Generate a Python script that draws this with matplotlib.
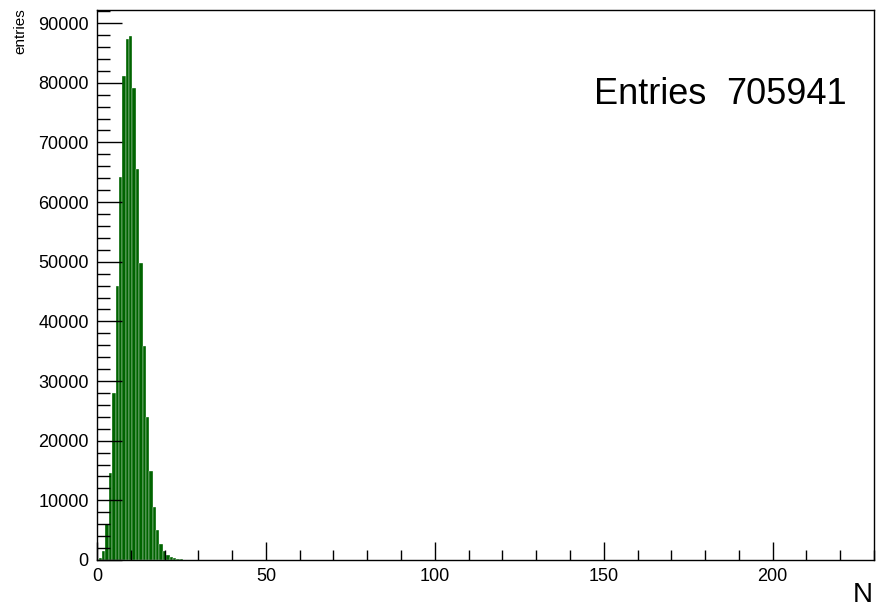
import numpy as np
import matplotlib
matplotlib.use('Agg')
import matplotlib.pyplot as plt
from matplotlib.ticker import MultipleLocator

plt.rcParams['font.family'] = ['Liberation Sans', 'DejaVu Sans']

# histogram of N, unit-width bins centred on integers
n_bins = np.arange(1, 26)
counts = [350, 1500, 5980, 14600, 28060, 45870, 64280, 81160, 87380, 87890,
          79180, 65590, 49760, 35930, 24010, 14950, 8840, 5080, 2740, 1470,
          800, 560, 330, 200, 100]
n_entries = 705941

x_major = [0, 50, 100, 150, 200]
y_major = [0, 10000, 20000, 30000, 40000, 50000, 60000, 70000, 80000, 90000]

fig = plt.figure(figsize=(8.76, 6.10), dpi=100)
ax = fig.add_axes([0.1107, 0.082, 0.887, 0.9016])

ax.bar(n_bins, counts, width=1.0, color='#006400', edgecolor='white', linewidth=0.25)

ax.set_xlim(0, 230)
ax.set_ylim(0, 92200)

ax.set_xticks(x_major)
ax.set_xticklabels([str(v) for v in x_major])
ax.xaxis.set_minor_locator(MultipleLocator(10))
ax.set_yticks(y_major)
ax.set_yticklabels([str(v) for v in y_major])
ax.yaxis.set_minor_locator(MultipleLocator(2000))

ax.tick_params(axis='both', which='both', direction='in', labelsize=13, pad=6)
ax.tick_params(axis='y', which='major', length=18, width=1)
ax.tick_params(axis='y', which='minor', length=9, width=1)
ax.tick_params(axis='x', which='major', length=13, width=1)
ax.tick_params(axis='x', which='minor', length=7, width=1)
for s in ax.spines.values():
    s.set_linewidth(1)

# stats box text (no border, as in the reference)
fig.text(594 / 876, 1 - 104 / 610, 'Entries', fontsize=26, ha='left', va='baseline')
fig.text(847 / 876, 1 - 104 / 610, str(n_entries), fontsize=26, ha='right', va='baseline')

fig.text(20 / 876, 1 - 8 / 610, 'entries', fontsize=11, rotation=90, ha='center', va='top')
fig.text(873 / 876, 1 - 602 / 610, 'N', fontsize=20, ha='right', va='baseline')

fig.savefig('out.png', dpi=100)
